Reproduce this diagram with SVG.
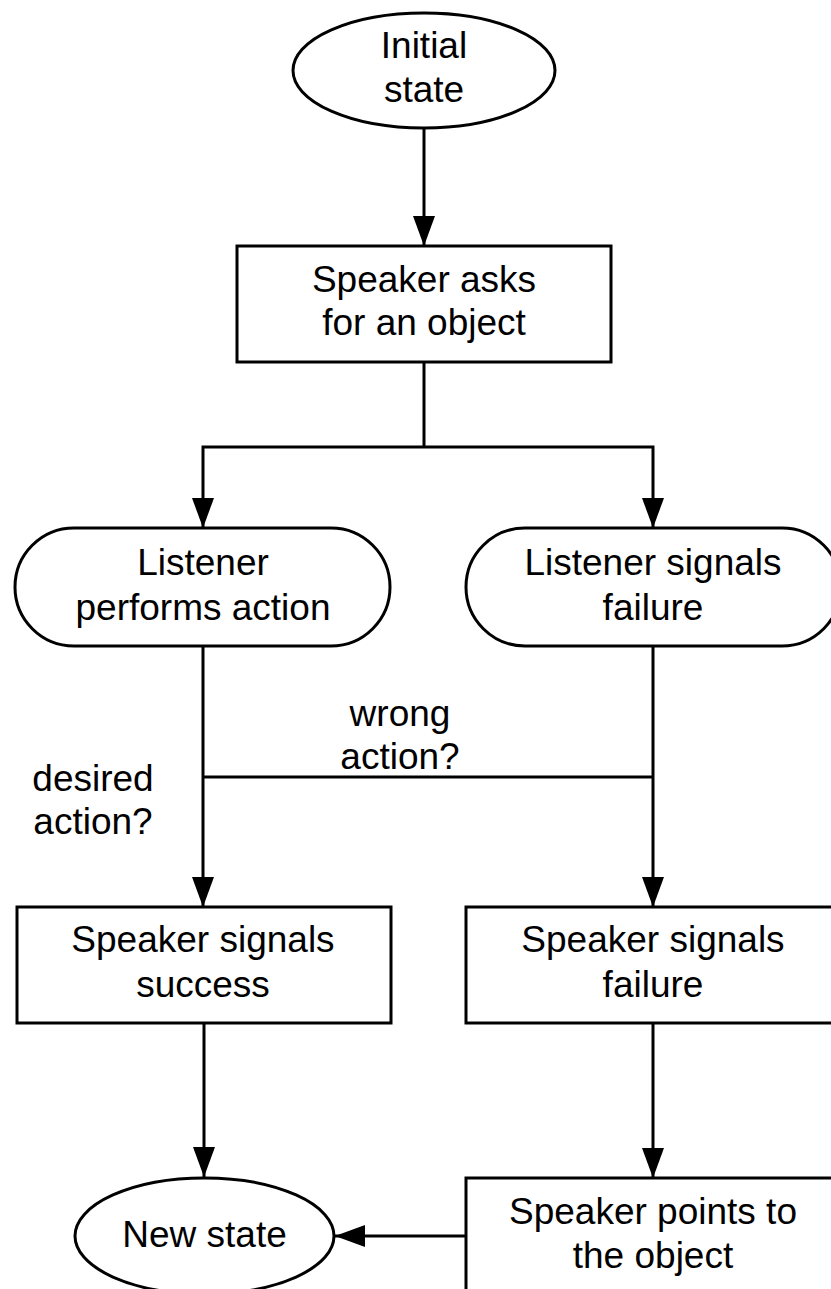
<svg xmlns="http://www.w3.org/2000/svg" width="831" height="1289" viewBox="0 0 831 1289">
<defs>
<style>
.n{fill:#fff;stroke:#000;stroke-width:3}
.c{fill:none;stroke:#000;stroke-width:3}
text{font-family:"Liberation Sans",Arial,Helvetica,sans-serif;font-size:37px;fill:#000;text-anchor:middle}
</style>
<marker id="ah" markerUnits="userSpaceOnUse" markerWidth="30" markerHeight="22" viewBox="0 0 30 22" refX="30" refY="11" orient="auto">
<path d="M0,0 L30,11 L0,22 Z" fill="#000"/>
</marker>
</defs>
<rect width="831" height="1289" fill="#fff"/>
<g id="connectors">
<path class="c" d="M424,128 V246" marker-end="url(#ah)"/>
<path class="c" d="M424,362 V447"/>
<path class="c" d="M424,447 H203 V528" marker-end="url(#ah)"/>
<path class="c" d="M424,447 H653 V528" marker-end="url(#ah)"/>
<path class="c" d="M203,646 V907" marker-end="url(#ah)"/>
<path class="c" d="M653,646 V907" marker-end="url(#ah)"/>
<path class="c" d="M203,777 H653"/>
<path class="c" d="M204,1023 V1177" marker-end="url(#ah)"/>
<path class="c" d="M653,1023 V1178" marker-end="url(#ah)"/>
<path class="c" d="M466,1236 H335" marker-end="url(#ah)"/>
<text x="400" y="726">wrong</text>
<text x="400" y="769">action?</text>
<text x="93" y="791">desired</text>
<text x="93" y="834">action?</text>
</g>
<g id="initial-state">
<ellipse class="n" cx="424" cy="70.5" rx="131" ry="57.5"/>
<text x="424" y="58">Initial</text>
<text x="424" y="102">state</text>
</g>
<g id="speaker-asks">
<rect class="n" x="237" y="246" width="374" height="116"/>
<text x="424" y="292">Speaker asks</text>
<text x="424" y="335">for an object</text>
</g>
<g id="listener-performs">
<rect class="n" x="15" y="528" width="375" height="118" rx="59" ry="59"/>
<text x="203" y="575">Listener</text>
<text x="203" y="620">performs action</text>
</g>
<g id="listener-fails">
<rect class="n" x="466" y="528" width="375" height="118" rx="59" ry="59"/>
<text x="653" y="575">Listener signals</text>
<text x="653" y="620">failure</text>
</g>
<g id="speaker-success">
<rect class="n" x="17" y="907" width="374" height="116"/>
<text x="203" y="952">Speaker signals</text>
<text x="203" y="997">success</text>
</g>
<g id="speaker-failure">
<rect class="n" x="466" y="907" width="374" height="116"/>
<text x="653" y="952">Speaker signals</text>
<text x="653" y="997">failure</text>
</g>
<g id="new-state">
<ellipse class="n" cx="204.5" cy="1236" rx="129.5" ry="58"/>
<text x="204.5" y="1247">New state</text>
</g>
<g id="speaker-points">
<rect class="n" x="466" y="1178" width="374" height="130"/>
<text x="653" y="1224">Speaker points to</text>
<text x="653" y="1268">the object</text>
</g>
</svg>
